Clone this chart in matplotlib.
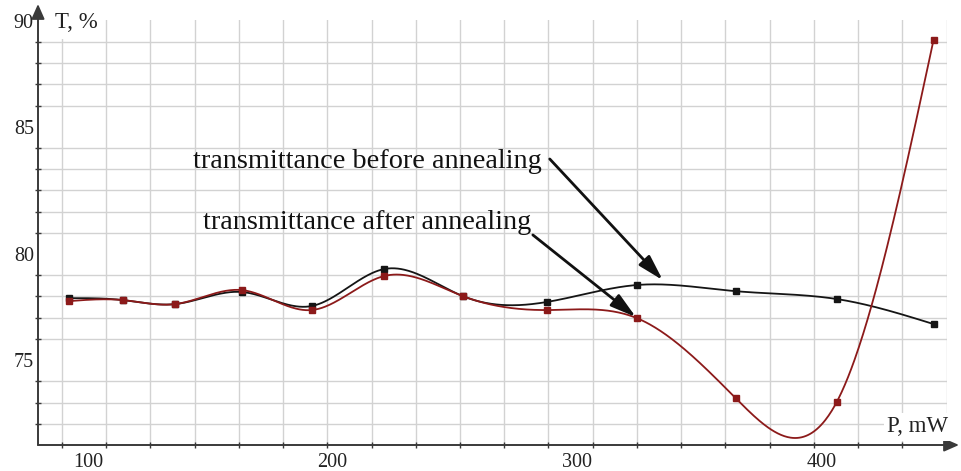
import numpy as np
import matplotlib
matplotlib.use('Agg')
import matplotlib.pyplot as plt
from matplotlib.ticker import FixedLocator, FixedFormatter

# ---- data ----
power_mw = [92.2, 114.3, 135.6, 163.0, 191.5, 221.0, 253.2, 287.6, 324.4, 364.8, 406.1, 445.7]
t_before = [77.92, 77.83, 77.64, 78.21, 77.55, 79.29, 78.02, 77.74, 78.54, 78.25, 77.88, 76.70]
t_after = [77.78, 77.83, 77.64, 78.30, 77.36, 78.96, 78.02, 77.36, 76.98, 73.21, 73.02, 90.09]
x_tick_values = [100, 200, 300, 400]
y_tick_labels = ['75', '80', '85', '90']
label_before = 'transmittance before annealing'
label_after = 'transmittance after annealing'
x_axis_label = 'P, mW'
y_axis_label = 'T, %'

# ---- layout / style ----
W, H = 961, 471
y_tick_positions = [75, 80, 86, 91]
FONT = 'Liberation Serif'
BLACK = '#151515'
RED = '#8c1a1a'
GRID = '#d2d2d2'
AXC = '#3a3a3a'


def natural_spline(x, y, xs):
    x = np.asarray(x, float)
    y = np.asarray(y, float)
    n = len(x)
    h = np.diff(x)
    A = np.zeros((n, n))
    b = np.zeros(n)
    A[0, 0] = 1
    A[-1, -1] = 1
    for i in range(1, n - 1):
        A[i, i - 1] = h[i - 1]
        A[i, i] = 2 * (h[i - 1] + h[i])
        A[i, i + 1] = h[i]
        b[i] = 3 * ((y[i + 1] - y[i]) / h[i] - (y[i] - y[i - 1]) / h[i - 1])
    c = np.linalg.solve(A, b)
    bc = (y[1:] - y[:-1]) / h - h * (2 * c[:-1] + c[1:]) / 3
    d = (c[1:] - c[:-1]) / (3 * h)
    idx = np.clip(np.searchsorted(x, xs) - 1, 0, n - 2)
    dx = xs - x[idx]
    return y[idx] + bc[idx] * dx + c[idx] * dx ** 2 + d[idx] * dx ** 3


fig = plt.figure(figsize=(W / 100, H / 100), dpi=100)
fig.patch.set_facecolor('white')
ax = fig.add_axes([38 / W, 26 / H, 909 / W, 425 / H])
ax.set_xlim(79.6, 451.2)
ax.set_ylim(71, 91.03)

for s in ax.spines.values():
    s.set_visible(False)

# grid (minor ticks) and labels (major ticks)
xgrid = 89.37 + 18.083 * np.arange(21)
ygrid = np.arange(72, 92)
ax.xaxis.set_minor_locator(FixedLocator(xgrid))
ax.yaxis.set_minor_locator(FixedLocator(ygrid))
ax.xaxis.set_major_locator(FixedLocator(x_tick_values))
ax.xaxis.set_major_formatter(FixedFormatter([str(v) for v in x_tick_values]))
ax.yaxis.set_major_locator(FixedLocator(y_tick_positions))
ax.yaxis.set_major_formatter(FixedFormatter(y_tick_labels))
ax.grid(which='minor', color=GRID, lw=1.0)
ax.grid(which='major', visible=False)
ax.tick_params(which='major', length=0, labelsize=14.5, colors='#222222')
ax.tick_params(axis='x', which='major', pad=5.5)
ax.tick_params(axis='y', which='major', pad=3)
ax.tick_params(which='minor', direction='inout', length=5, width=1.0, color=AXC)
for lab in ax.get_xticklabels() + ax.get_yticklabels():
    lab.set_fontfamily(FONT)

# axis labels with white boxes (covering the grid)
fig.text(55 / W, 1 - 22 / H, y_axis_label, fontsize=16.5, family=FONT, color='#222222',
         ha='left', va='center', zorder=0.5,
         bbox=dict(facecolor='white', edgecolor='none', boxstyle='square,pad=0.3'))
fig.text(887 / W, 1 - 427 / H, x_axis_label, fontsize=16.5, family=FONT, color='#222222',
         ha='left', va='center', zorder=0.5,
         bbox=dict(facecolor='white', edgecolor='none', boxstyle='square,pad=0.15'))

# curves
xs = np.linspace(power_mw[0], power_mw[-1], 800)
ax.plot(xs, natural_spline(power_mw, t_before, xs), color=BLACK, lw=1.3, zorder=3)
ax.plot(power_mw, t_before, 's', color=BLACK, ms=4.5, zorder=4)
ax.plot(xs, natural_spline(power_mw, t_after, xs), color=RED, lw=1.3, zorder=5)
ax.plot(power_mw, t_after, 's', color=RED, ms=4.5, zorder=6)

# annotations
ax.text(142.9, 84.06, label_before, fontsize=20.3, family=FONT, color='#111111',
        ha='left', va='baseline', zorder=7)
ax.text(147.0, 81.18, label_after, fontsize=20.3, family=FONT, color='#111111',
        ha='left', va='baseline', zorder=7)
arrow_kw = dict(arrowstyle='-|>,head_length=0.6,head_width=0.17', mutation_scale=26,
                lw=2.0, color='#111111', shrinkA=0, shrinkB=0)
ax.annotate('', xy=(335.0, 78.77), xytext=(288.8, 84.48), arrowprops=arrow_kw, zorder=8)
ax.annotate('', xy=(324.0, 77.03), xytext=(281.9, 80.90), arrowprops=arrow_kw, zorder=8)

# axes lines with arrows, drawn on top via an overlay axes in pixel units
ov = fig.add_axes([0, 0, 1, 1], facecolor='none')
ov.set_xlim(0, W)
ov.set_ylim(H, 0)
ov.axis('off')
axis_arrow = dict(arrowstyle='-|>,head_length=0.5,head_width=0.22',
                  mutation_scale=18, lw=1.4, color=AXC, shrinkA=0, shrinkB=0)
ov.annotate('', xy=(38, 4), xytext=(38, 445), arrowprops=axis_arrow)
ov.annotate('', xy=(959, 445), xytext=(38, 445), arrowprops=axis_arrow)

fig.savefig('out.png', dpi=100, facecolor='white')
